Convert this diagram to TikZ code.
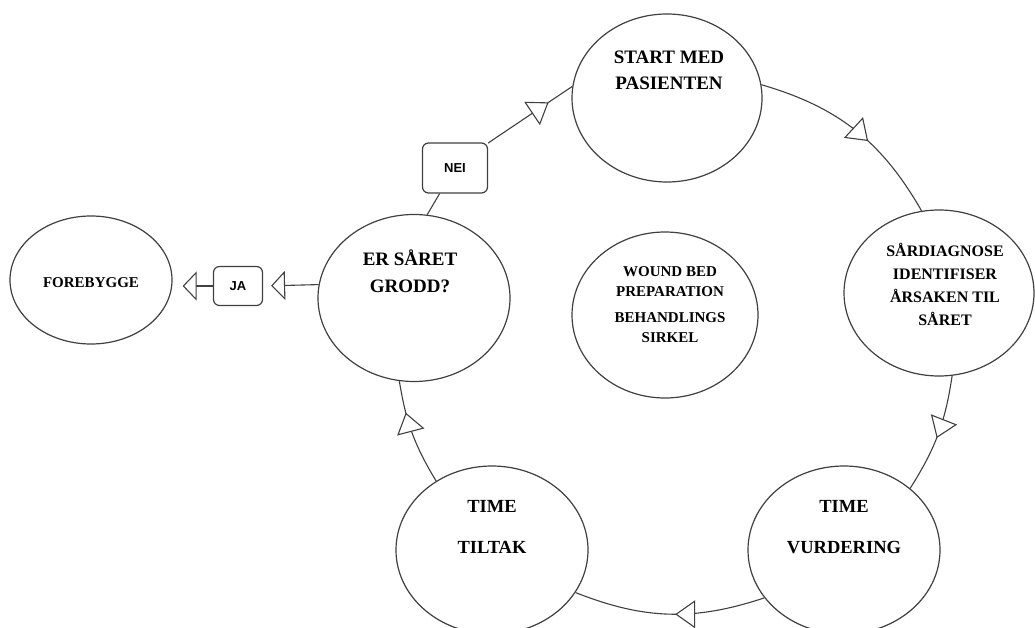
\documentclass[tikz,border=0pt]{standalone}
\usepackage{fontspec}
\setmainfont{Liberation Serif}
\newfontfamily\boxfont{Liberation Sans}
\usetikzlibrary{shapes.geometric,arrows.meta,decorations.markings,calc}
\begin{document}
\begin{tikzpicture}[x=1pt,y=-1pt,
  ell/.style={ellipse, draw=black!75, line width=1.2pt, inner sep=0pt},
  lab/.style={align=center, text=black, inner sep=0pt},
  tbox/.style={draw=black!75, line width=1.2pt, rounded corners=6pt, font=\boxfont\bfseries\fontsize{13}{15}\selectfont, inner sep=0pt, text=black},
  conn/.style={draw=black!75, line width=1.1pt},
  endtri/.style={-{Triangle[length=14pt,width=29pt,fill=white]}},
  midtri/.style={postaction={decorate}, decoration={markings, mark=at position #1 with {\arrow{Triangle[length=20pt,width=28pt,fill=white]}}}},
]
\useasboundingbox (0,0) rectangle (1035,628);
\fill[white] (0,0) rectangle (1035,628);

\node[ell, minimum width=190pt, minimum height=168pt,
  label={[lab, font=\bfseries\fontsize{19}{26}\selectfont, yshift=28pt, xshift=2pt]center:{START MED\\PASIENTEN}}] (start) at (667,98) {};
\node[ell, minimum width=190pt, minimum height=166pt,
  label={[lab, font=\bfseries\fontsize{16}{23}\selectfont, yshift=9pt, xshift=6pt]center:{SÅRDIAGNOSE\\IDENTIFISER\\ÅRSAKEN TIL\\SÅRET}}] (sar) at (939,293) {};
\node[ell, minimum width=192pt, minimum height=168pt,
  label={[lab, font=\bfseries\fontsize{18.5}{41}\selectfont, yshift=23pt]center:{TIME\\VURDERING}}] (tv) at (844,550) {};
\node[ell, minimum width=192pt, minimum height=168pt,
  label={[lab, font=\bfseries\fontsize{18.5}{41}\selectfont, yshift=23pt]center:{TIME\\TILTAK}}] (tt) at (492,550) {};
\node[ell, minimum width=192pt, minimum height=167pt,
  label={[lab, font=\bfseries\fontsize{19}{27}\selectfont, yshift=27pt, xshift=-4pt]center:{ER SÅRET\\GRODD?}}] (er) at (414,298) {};
\node[ell, minimum width=162pt, minimum height=128pt,
  label={[lab, font=\bfseries\fontsize{15}{18}\selectfont, yshift=-3pt]center:{FOREBYGGE}}] (fore) at (91,280) {};
\node[ell, minimum width=186pt, minimum height=166pt,
  label={[lab, font=\bfseries\fontsize{15}{20}\selectfont, yshift=10pt, xshift=5pt]center:{WOUND BED\\PREPARATION\\[6pt]BEHANDLINGS\\SIRKEL}}] (mid) at (665,315) {};

\node[tbox, minimum width=65pt, minimum height=50pt] (nei) at (455,168) {NEI};
\node[tbox, minimum width=49pt, minimum height=39pt] (ja) at (238,286) {JA};

\draw[conn, midtri=0.58] (start.8) to[bend left=22] (sar.102);
\draw[conn, midtri=0.53] (sar.-81) to[bend left=12] (tv.43);
\draw[conn, midtri=0.47] (tv.211) to[bend left=20] (tt.-27);
\draw[conn, midtri=0.7] (tt.129) to[bend left=11] (er.-100);
\draw[conn] (er.81) -- (nei.239);
\draw[conn, midtri=0.72] (nei.37) -- (start.173);
\draw[conn, endtri, shorten >=8pt] (er.172) -- (ja.east);
\draw[conn, endtri, shorten >=10pt] (ja.west) -- (ja.west -| fore.east);
\end{tikzpicture}
\end{document}
